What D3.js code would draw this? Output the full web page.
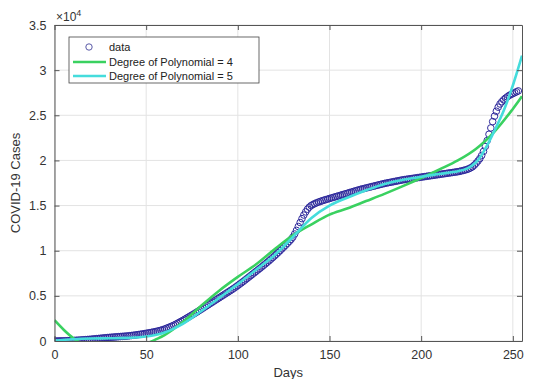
<!DOCTYPE html>
<html><head><meta charset="utf-8">
<script src="https://cdn.jsdelivr.net/npm/d3@7"></script>
<style>body{margin:0;background:#fff}svg{display:block}text{font-family:"Liberation Sans",Arial,sans-serif}</style>
</head><body><svg id="c" width="559" height="379"></svg>
<script>
// ---- data ----
const caseValues = [
0,3,6,10,15,20,27,34,42,51,
60,70,81,93,106,120,135,150,166,183,
200,220,240,260,280,300,320,340,360,380,
400,416,432,448,464,480,496,512,528,544,
560,585,610,635,660,690,720,750,780,815,
850,885,920,960,1000,1040,1085,1135,1190,1250,
1320,1400,1480,1565,1650,1740,1840,1950,2060,2170,
2280,2400,2520,2640,2760,2880,3000,3120,3250,3380,
3510,3640,3770,3900,4030,4160,4290,4420,4550,4680,
4810,4940,5070,5200,5330,5460,5590,5720,5860,6000,
6150,6300,6450,6600,6760,6920,7080,7240,7400,7560,
7720,7880,8040,8200,8370,8540,8710,8880,9060,9240,
9420,9610,9800,10000,10200,10400,10600,10810,11020,11240,
11500,11850,12250,12680,13120,13550,13950,14300,14600,14830,
15000,15120,15220,15310,15390,15460,15530,15600,15660,15720,
15780,15840,15900,15960,16020,16080,16140,16200,16260,16320,
16380,16440,16500,16560,16620,16680,16740,16800,16850,16900,
16950,17000,17050,17100,17150,17200,17250,17300,17350,17400,
17450,17490,17530,17570,17610,17650,17690,17730,17770,17810,
17850,17880,17910,17940,17970,18000,18030,18060,18090,18120,
18150,18180,18210,18240,18270,18300,18330,18360,18390,18420,
18450,18480,18510,18540,18570,18600,18630,18660,18690,18720,
18750,18790,18840,18890,18940,19000,19080,19180,19300,19480,
19700,19940,20200,20550,21000,21550,22200,22900,23600,24300,
24900,25450,25900,26250,26500,26720,26900,27050,27200,27300,
27400,27500,27600,27700];
const caseDays = caseValues.map((v,i)=>i);

const poly4Days   = [0,5,10,15,20,30,40,50,55,60,70,80,90,100,110,120,130,140,150,160,170,180,190,200,210,220,230,240,250,255];
const poly4Values = [2300,1250,350,-300,-750,-1150,-900,-300,150,650,2100,3900,5600,7100,8500,10150,11700,12900,14000,14700,15500,16300,17150,18050,19000,20000,21300,23200,25700,27100];

const poly5Days   = [0,10,20,30,40,50,60,70,80,90,100,110,120,130,140,150,160,170,180,190,200,210,220,225,230,235,240,245,250,255];
const poly5Values = [50,200,280,300,350,500,950,1900,3300,4800,6300,7900,9500,11500,13600,15000,15900,16700,17400,17850,18200,18500,18800,19100,19800,21300,23300,25500,28300,31600];

const xTicks = [0,50,100,150,200,250];
const yTicks = [0,5000,10000,15000,20000,25000,30000,35000];
const yTickLabels = ["0","0.5","1","1.5","2","2.5","3","3.5"];
const legendLabels = ["data","Degree of Polynomial = 4","Degree of Polynomial = 5"];

// ---- layout ----
const L=54.5, R=522, T=25, B=341;
const svg = d3.select("#c");
const x = d3.scaleLinear().domain([0,255]).range([L,R]);
const y = d3.scaleLinear().domain([0,35000]).range([B,T]);

const axisColor="#555", textColor="#333";
// grid
svg.append("g").selectAll("line").data(xTicks).join("line")
  .attr("x1",d=>x(d)).attr("x2",d=>x(d)).attr("y1",T).attr("y2",B)
  .attr("stroke","#e3e3e3").attr("stroke-width",1);
svg.append("g").selectAll("line").data(yTicks).join("line")
  .attr("y1",d=>y(d)).attr("y2",d=>y(d)).attr("x1",L).attr("x2",R)
  .attr("stroke","#e3e3e3").attr("stroke-width",1);

svg.append("defs").append("clipPath").attr("id","clip")
  .append("rect").attr("x",L).attr("y",T-2).attr("width",R-L+2).attr("height",B-T+2);

const plot = svg.append("g").attr("clip-path","url(#clip)");
// data circles
plot.append("g").selectAll("circle").data(caseDays).join("circle")
  .attr("cx",d=>x(d)).attr("cy",(d,i)=>y(caseValues[i])).attr("r",3.3)
  .attr("fill","none").attr("stroke","#2f2a9c").attr("stroke-width",1);

const line = d3.line().x(d=>x(d[0])).y(d=>y(d[1])).curve(d3.curveCatmullRom);
plot.append("path").datum(poly4Days.map((d,i)=>[d,poly4Values[i]]))
  .attr("d",line).attr("fill","none").attr("stroke","#3ad160").attr("stroke-width",2.6);
plot.append("path").datum(poly5Days.map((d,i)=>[d,poly5Values[i]]))
  .attr("d",line).attr("fill","none").attr("stroke","#45dcdc").attr("stroke-width",2.6);

// axes
const xb = d3.axisBottom(x).tickValues(xTicks).tickSize(-5).tickSizeOuter(0).tickPadding(9);
svg.append("g").attr("transform",`translate(0,${B})`).call(xb);
const yl = d3.axisLeft(y).tickValues(yTicks).tickFormat((d,i)=>yTickLabels[i]).tickSize(-5).tickSizeOuter(0).tickPadding(8);
svg.append("g").attr("transform",`translate(${L},0)`).call(yl);
const xt = d3.axisTop(x).tickValues(xTicks).tickSize(-5).tickSizeOuter(0).tickFormat("");
svg.append("g").attr("transform",`translate(0,${T})`).call(xt);
const yr = d3.axisRight(y).tickValues(yTicks).tickSize(-5).tickSizeOuter(0).tickFormat("");
svg.append("g").attr("transform",`translate(${R},0)`).call(yr);
svg.selectAll(".domain").attr("stroke",axisColor);
svg.selectAll(".tick line").attr("stroke",axisColor);
svg.selectAll(".tick text").attr("fill",textColor).style("font-size","12.5px").style("font-family","'Liberation Sans',Arial,sans-serif");

// exponent
const ex = svg.append("text").attr("x",56).attr("y",21).attr("fill",textColor).style("font-size","12px");
ex.append("tspan").text("×10");
ex.append("tspan").attr("dy",-5).style("font-size","9px").text("4");

// axis labels
svg.append("text").attr("x",(L+R)/2).attr("y",377).attr("text-anchor","middle")
  .attr("fill",textColor).style("font-size","13px").text("Days");
svg.append("text").attr("transform",`translate(20,${(T+B)/2}) rotate(-90)`).attr("text-anchor","middle")
  .attr("fill",textColor).style("font-size","13px").text("COVID-19 Cases");

// legend
const lg = svg.append("g");
lg.append("rect").attr("x",69).attr("y",37).attr("width",190).attr("height",46)
  .attr("fill","#fff").attr("stroke","#444").attr("stroke-width",0.8);
const rowsY=[47,62,76];
lg.append("circle").attr("cx",89).attr("cy",rowsY[0]).attr("r",3.2).attr("fill","none").attr("stroke","#5a5aa8").attr("stroke-width",1);
lg.append("line").attr("x1",73).attr("x2",106).attr("y1",rowsY[1]).attr("y2",rowsY[1]).attr("stroke","#3ad160").attr("stroke-width",2.6);
lg.append("line").attr("x1",73).attr("x2",106).attr("y1",rowsY[2]).attr("y2",rowsY[2]).attr("stroke","#45dcdc").attr("stroke-width",2.6);
lg.selectAll("text.l").data(legendLabels).join("text").attr("class","l")
  .attr("x",109).attr("y",(d,i)=>rowsY[i]+4).attr("fill","#222").style("font-size","11px").text(d=>d);
</script></body></html>
